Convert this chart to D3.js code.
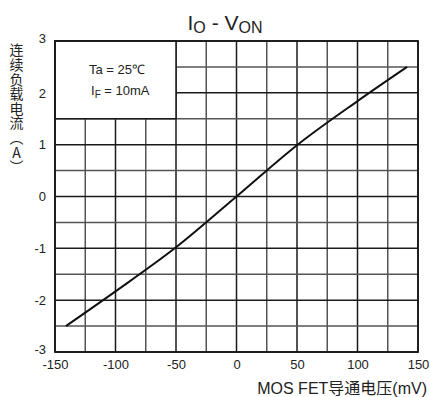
<!DOCTYPE html>
<html>
<head>
<meta charset="utf-8">
<script src="https://cdn.jsdelivr.net/npm/d3@7"></script>
<style>
  html, body { margin: 0; padding: 0; background: #fff; }
  svg { display: block; font-family: "Liberation Sans", Arial, sans-serif; }
</style>
</head>
<body>
<svg id="chart" width="430" height="397"></svg>
<script>
/************** Data **************/
const vOn = [-141, -100, -50, 0, 50, 100, 141];      // mV
const iOut = [-2.5, -1.83, -0.98, 0, 0.99, 1.84, 2.5]; // A
const xTicks = [-150, -100, -50, 0, 50, 100, 150];
const yTicks = [-3, -2, -1, 0, 1, 2, 3];
const legendLines = ["Ta = 25℃", "IF = 10mA"];
const yTitle = "连续负载电流（A）";

/************** Layout **************/
const svg = d3.select("#chart");
const plot = { left: 55, right: 418, top: 41, bottom: 352 };

const x = d3.scaleLinear().domain([-150, 150]).range([plot.left, plot.right]);
const y = d3.scaleLinear().domain([-3, 3]).range([plot.bottom, plot.top]);

const majorCol = "#1a1a1a", minorCol = "#555";

/* grid */
const grid = svg.append("g").attr("class", "grid");
d3.range(-150, 151, 25).forEach(v => {
  const major = v % 50 === 0;
  grid.append("line")
    .attr("x1", x(v)).attr("x2", x(v))
    .attr("y1", y(-3)).attr("y2", y(3))
    .attr("stroke", major ? majorCol : minorCol)
    .attr("stroke-width", 1.5);
});
d3.range(-3, 3.01, 0.5).forEach(v => {
  const major = Math.abs(v % 1) < 1e-9;
  grid.append("line")
    .attr("x1", x(-150)).attr("x2", x(150))
    .attr("y1", y(v)).attr("y2", y(v))
    .attr("stroke", major ? majorCol : minorCol)
    .attr("stroke-width", 1.5);
});

/* legend box hides the grid in the top-left corner */
svg.append("rect")
  .attr("x", x(-150)).attr("y", y(3))
  .attr("width", x(-50) - x(-150)).attr("height", y(1.5) - y(3))
  .attr("fill", "#fff")
  .attr("stroke", majorCol).attr("stroke-width", 1.5);

/* outer frame */
svg.append("rect")
  .attr("x", x(-150)).attr("y", y(3))
  .attr("width", x(150) - x(-150)).attr("height", y(-3) - y(3))
  .attr("fill", "none")
  .attr("stroke", majorCol).attr("stroke-width", 1.8);

/* curve */
const line = d3.line()
  .x((d, i) => x(vOn[i]))
  .y(d => y(d))
  .curve(d3.curveMonotoneX);

svg.append("path")
  .datum(iOut)
  .attr("d", line)
  .attr("fill", "none")
  .attr("stroke", "#111")
  .attr("stroke-width", 2);

/* axes (labels only) */
const xAxis = svg.append("g")
  .attr("transform", `translate(0,${plot.bottom})`)
  .call(d3.axisBottom(x).tickValues(xTicks).tickFormat(d => String(d)).tickSize(0).tickPadding(0));
xAxis.select(".domain").remove();
xAxis.selectAll("text")
  .attr("y", 17).attr("dy", null)
  .attr("font-size", 13).attr("fill", "#222")
  .attr("font-family", "Liberation Sans, Arial, sans-serif");

const yAxis = svg.append("g")
  .attr("transform", `translate(${plot.left},0)`)
  .call(d3.axisLeft(y).tickValues(yTicks).tickFormat(d => String(d)).tickSize(0).tickPadding(0));
yAxis.select(".domain").remove();
yAxis.selectAll("text")
  .attr("x", -9).attr("dy", "0.32em")
  .attr("font-size", 13).attr("fill", "#222")
  .attr("font-family", "Liberation Sans, Arial, sans-serif");
// "3" and "-3" sit slightly above their lines
yAxis.selectAll(".tick").filter(d => d === 3 || d === -3).select("text").attr("dy", "0.1em");

/* title */
const title = svg.append("text")
  .attr("x", 225).attr("y", 30)
  .attr("text-anchor", "middle")
  .attr("font-size", 21).attr("fill", "#222");
title.append("tspan").text("I");
title.append("tspan").attr("font-size", 16).attr("dy", 3).text("O");
title.append("tspan").attr("dy", -3).text(" - V");
title.append("tspan").attr("font-size", 16).attr("dy", 3).text("ON");

/* legend text */
svg.append("text")
  .attr("x", 89).attr("y", 74)
  .attr("font-size", 13).attr("fill", "#222")
  .text(legendLines[0]);
const lg2 = svg.append("text")
  .attr("x", 91).attr("y", 95)
  .attr("font-size", 13).attr("fill", "#222");
lg2.append("tspan").text(legendLines[1].slice(0, 1));
lg2.append("tspan").attr("font-size", 10).attr("dy", 3).text(legendLines[1].slice(1, 2));
lg2.append("tspan").attr("dy", -3).text(legendLines[1].slice(2));

/* x axis title */
svg.append("text")
  .attr("x", 427).attr("y", 394)
  .attr("text-anchor", "end")
  .attr("font-size", 16).attr("fill", "#222")
  .attr("font-family", "Liberation Sans, 'Noto Sans CJK SC', sans-serif")
  .text("MOS FET导通电压(mV)");

/* y axis title, stacked vertically */
svg.append("text")
  .attr("x", 16.5).attr("y", 43)
  .attr("font-size", 14).attr("fill", "#222")
  .attr("font-family", "'Noto Sans CJK SC', sans-serif")
  .style("writing-mode", "vertical-rl")
  .style("text-orientation", "upright")
  .style("letter-spacing", "0.6px")
  .text(yTitle);
</script>
</body>
</html>
